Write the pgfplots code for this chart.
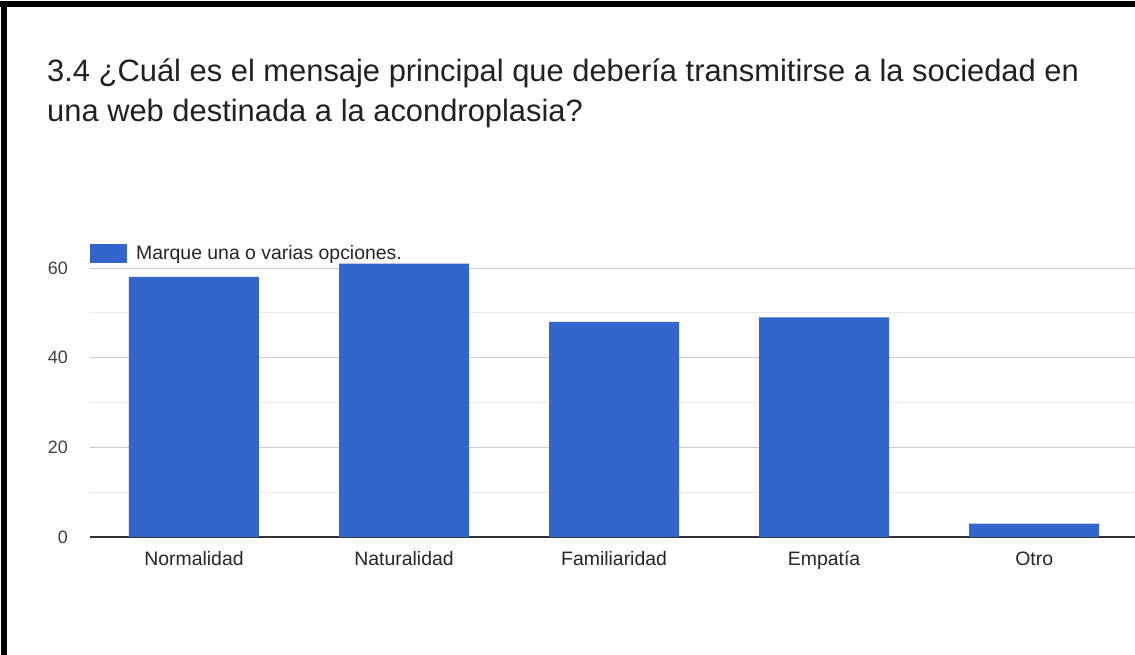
\documentclass[border=0pt]{standalone}
\usepackage{pgfplots}
\pgfplotsset{compat=1.18}
\usepackage{fontspec}
\setmainfont{Liberation Sans}
\definecolor{barblue}{HTML}{3366CC}
\begin{document}
\begin{tikzpicture}[x=1bp,y=1bp]
\path[use as bounding box] (0,0) rectangle (1135,655);
\fill[white] (0,0) rectangle (1135,655);
\fill[black] (0,648) rectangle (1135,654);
\fill[black] (1,0) rectangle (7,654);
\node[anchor=base west, inner sep=0pt, font=\fontsize{31}{40}\selectfont, text=black!87] at (47,573) {3.4 ¿Cuál es el mensaje principal que debería transmitirse a la sociedad en};
\node[anchor=base west, inner sep=0pt, font=\fontsize{31}{40}\selectfont, text=black!87] at (47,533) {una web destinada a la acondroplasia?};
\begin{axis}[
  at={(90bp,118bp)}, anchor=south west,
  scale only axis, width=1045bp, height=269bp,
  xmin=-0.495, xmax=4.48, ymin=0, ymax=60,
  clip=false,
  axis line style={draw=none},
  major tick length=0pt, minor tick length=0pt,
  xtick={0,1,2,3,4},
  xticklabels={Normalidad,Naturalidad,Familiaridad,Empatía,Otro},
  ytick={20,40,60}, minor ytick={10,30,50},
  extra y ticks={0},
  extra y tick style={major grid style={color=black!80, line width=1.8bp}},
  ymajorgrids, yminorgrids,
  major grid style={color=black!20, line width=0.9bp},
  minor grid style={color=black!8, line width=0.9bp},
  /pgf/number format/assume math mode=true,
  ticklabel style={font=\fontsize{18}{20}\selectfont, text=black!75},
  xticklabel style={font=\fontsize{19.5}{20}\selectfont, text=black!85, inner sep=0pt, anchor=base, yshift=-29bp},
  yticklabel style={inner sep=0pt, anchor=east, xshift=-22bp},
  ybar, bar width=130bp,
  legend style={draw=none, fill=none, inner sep=0pt, at={(0,1)}, anchor=south west, yshift=5bp,
    font=\fontsize{19.5}{20}\selectfont, text=black!85, cells={anchor=west}},
  legend image code/.code={\fill[barblue] (0bp,-9.5bp) rectangle (37bp,9.5bp); \path (44bp,0bp);},
]
\addplot[fill=barblue, draw=none] coordinates {(0,58) (1,61) (2,48) (3,49) (4,3)};
\addlegendentry{Marque una o varias opciones.}
\end{axis}
\end{tikzpicture}
\end{document}
